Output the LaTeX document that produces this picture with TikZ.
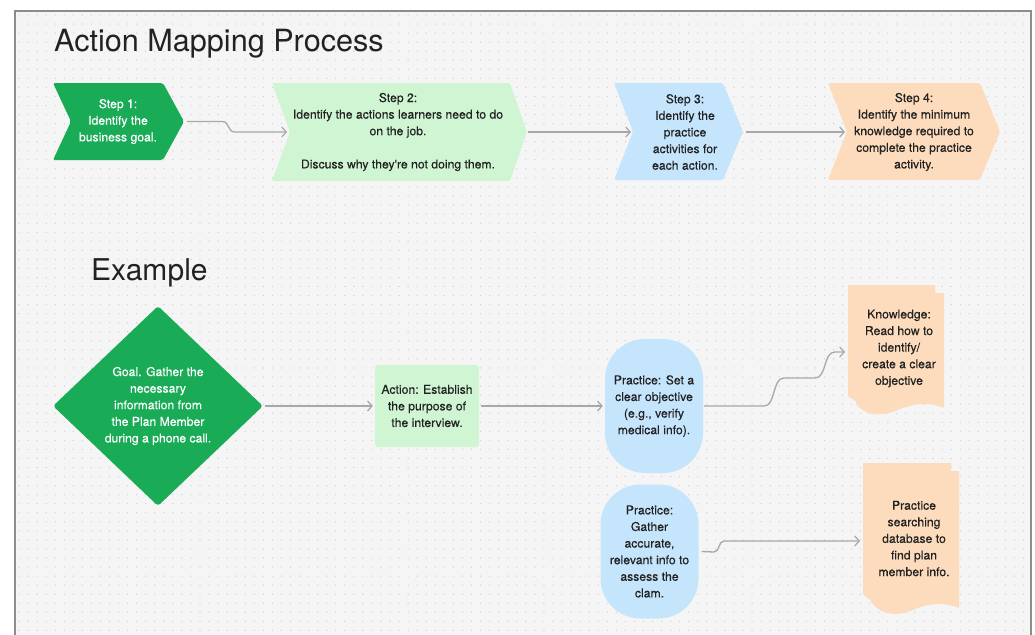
\documentclass[tikz,border=0pt]{standalone}
\usepackage{fontspec}
\setmainfont{TeX Gyre Heros}
\newfontfamily\labelfont[FakeBold=0.25]{TeX Gyre Heros}
\usetikzlibrary{arrows.meta,shapes.geometric}

\definecolor{pagebg}{HTML}{F5F5F5}
\definecolor{framegray}{HTML}{8C8C8C}
\definecolor{dotgray}{HTML}{D0D0D0}
\definecolor{goalgreen}{HTML}{1AAB57}
\definecolor{actgreen}{HTML}{CFF5D3}
\definecolor{pracblue}{HTML}{C5E5FD}
\definecolor{knoworange}{HTML}{FCDCBC}
\definecolor{linkgray}{HTML}{A8A8A8}
\definecolor{inkdark}{HTML}{222222}

\tikzset{
  bodytext/.style={align=center, inner sep=0pt,
    font=\labelfont\fontsize{12.2}{16.6}\selectfont},
  darktext/.style={bodytext, text=inkdark},
  lighttext/.style={bodytext, text=white},
  dotrow/.style={dotgray, line width=1.4pt, line cap=round,
    dash pattern=on 0pt off 9.05pt},
  link/.style={linkgray, line width=1.3pt,
    -{Straight Barb[length=4.5pt,width=10pt,line width=1.2pt]}},
  chevron/.style={rounded corners=2pt},
  blob/.style={darktext, fill=pracblue, rounded corners=40pt,
    minimum width=98pt, minimum height=134pt},
  page/.style={fill=knoworange}
}

\begin{document}
\begin{tikzpicture}[x=1pt,y=-1pt]
\useasboundingbox (0,0) rectangle (1035,634);
\fill[white] (0,0) rectangle (1035,634);

% canvas frame with dotted grid
\fill[pagebg] (15,11) rectangle (1031,650);
\foreach \i in {0,...,69}
  \draw[dotrow] (19,{15+9.05*\i}) -- (1028,{15+9.05*\i});
\draw[framegray, line width=1.8pt] (15,660) -- (15,11) -- (1031,11) -- (1031,660);

% headings
\node[anchor=base west, inner sep=0pt, text=inkdark,
      font=\fontsize{30.6}{32}\selectfont] (title) at (54,52) {Action Mapping Process};
\node[anchor=base west, inner sep=0pt, text=inkdark,
      font=\fontsize{30}{32}\selectfont] (example) at (91,280) {Example};

% process steps (chevrons)
\fill[goalgreen, chevron] (53,83) -- (163,83) -- (184,121.5) -- (163,160) -- (53,160) -- (71,121.5) -- cycle;
\fill[actgreen, chevron] (272,83) -- (510,83) -- (527,132) -- (510,181) -- (272,181) -- (290,132) -- cycle;
\fill[pracblue, chevron] (614,83) -- (723,83) -- (743,131.5) -- (723,180) -- (614,180) -- (633,131.5) -- cycle;
\fill[knoworange, chevron] (828,83) -- (980,83) -- (1000,131.5) -- (980,180) -- (828,180) -- (847,131.5) -- cycle;

\node[lighttext] (s1) at (118,121.5) {Step 1:\\Identify the\\business goal.};
\node[darktext] (s2) at (398,132) {Step 2:\\Identify the actions learners need to do\\on the job.\\[16.6pt]Discuss why they're not doing them.};
\node[darktext] (s3) at (685,132) {Step 3:\\Identify the\\practice\\activities for\\each action.};
\node[darktext] (s4) at (914,132) {Step 4:\\Identify the minimum\\knowledge required to\\complete the practice\\activity.};

\coordinate (s1out) at (187,121.5);
\coordinate (s2in)  at (287,132);
\coordinate (s2out) at (528,132);
\coordinate (s3in)  at (631,132);
\coordinate (s3out) at (746,132);
\coordinate (s4in)  at (845,132);

\draw[link] (s1out) -- (222,121.5) .. controls (230,121.5) and (227,132) .. (235,132) -- (s2in);
\draw[link] (s2out) -- (s3in);
\draw[link] (s3out) -- (s4in);

% worked example
\node[diamond, fill=goalgreen, rounded corners=3pt, inner sep=0pt,
      minimum width=210pt, minimum height=200pt, lighttext] (goal) at (158,406)
  {Goal. Gather the\\necessary\\information from\\the Plan Member\\during a phone call.};

\node[darktext, fill=actgreen, rounded corners=3pt,
      minimum width=104pt, minimum height=82pt] (action) at (427,406)
  {Action: Establish\\the purpose of\\the interview.};

\node[blob] (prac1) at (654,406)
  {Practice: Set a\\clear objective\\(e.g., verify\\medical info).};
\node[blob] (prac2) at (649.5,551.5)
  {Practice:\\Gather\\accurate,\\relevant info to\\assess the\\clam.};

% knowledge documents (stacked pages with a wavy foot)
\fill[page] (848,285) -- (935,285) -- (935,398) .. controls (920,394) and (905,396) .. (890,402)
  .. controls (875,408) and (860,406) .. (848,396) -- cycle;
\fill[page] (856,293) -- (944,293) -- (944,408) .. controls (930,402) and (915,403) .. (900,409)
  .. controls (885,416) and (868,418) .. (856,404) -- cycle;
\node[darktext] (know1) at (899,348.5)
  {Knowledge:\\Read how to\\identify/\\create a clear\\objective};

\fill[page] (863,463) -- (951,463) -- (951,598) .. controls (936,594) and (921,596) .. (906,602)
  .. controls (891,608) and (875,606) .. (863,594) -- cycle;
\fill[page] (871,471) -- (959,471) -- (959,608) .. controls (945,602) and (930,603) .. (915,609)
  .. controls (900,616) and (883,617) .. (871,602) -- cycle;
\node[darktext] (know2) at (914,538.5)
  {Practice\\searching\\database to\\find plan\\member info.};

\coordinate (k1in) at (845,352);
\coordinate (k2in) at (860,541);

\draw[link] (goal.east) ++(2,0) -- ([xshift=-2pt]action.west);
\draw[link] ([xshift=2pt]action.east) -- ([xshift=-2pt]prac1.west);
\draw[link] ([xshift=1pt]prac1.east) -- (764,406) .. controls (776,406) and (772,378) .. (784,378)
  -- (815,378) .. controls (827,378) and (823,352) .. (835,352) -- (k1in);
\draw[link] ([xshift=3pt]prac2.east) -- (714,552) .. controls (720,552) and (718,541) .. (724,541) -- (k2in);
\end{tikzpicture}
\end{document}
